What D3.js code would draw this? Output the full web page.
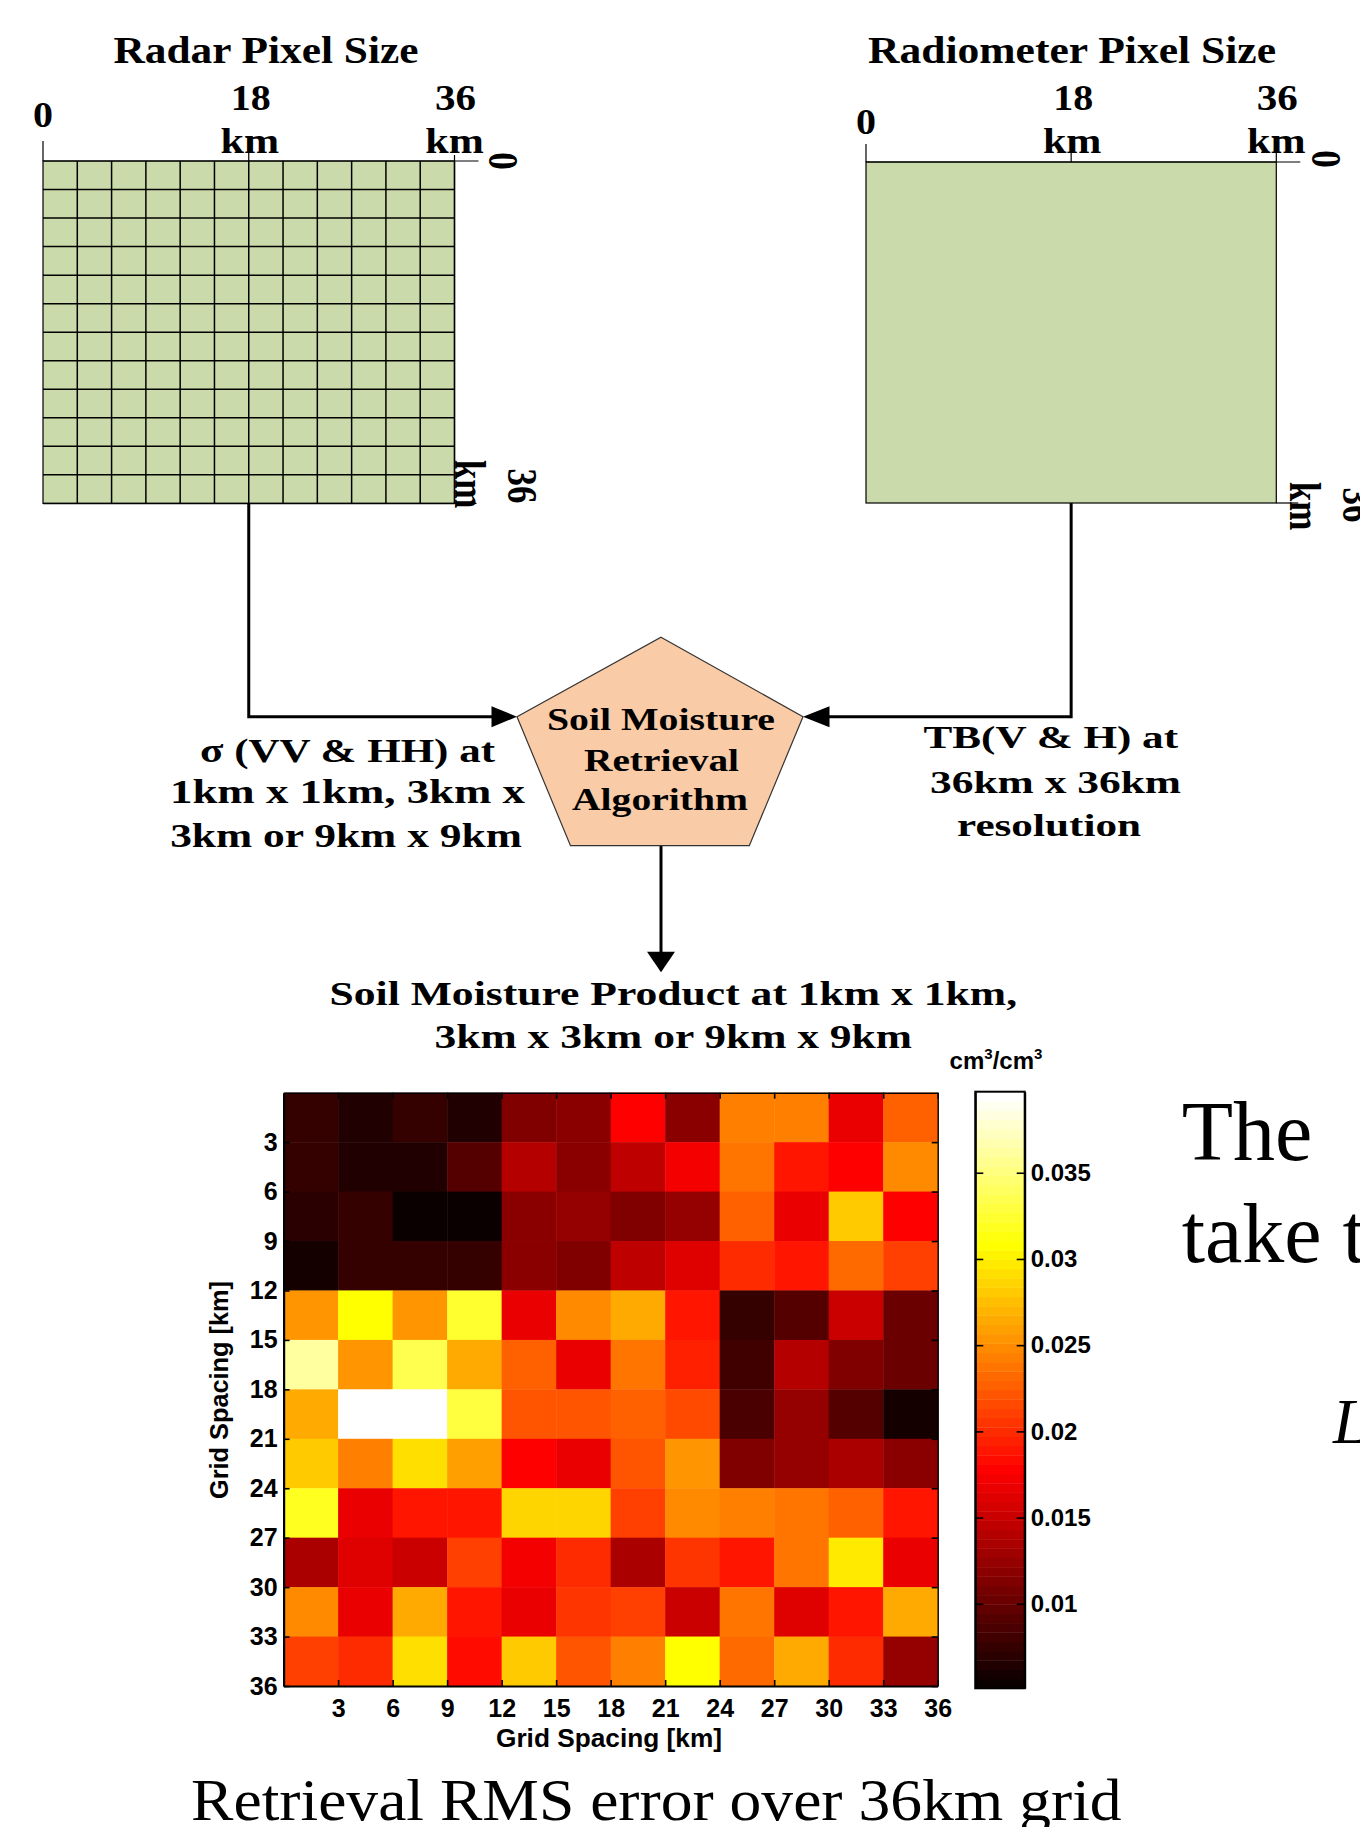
<!DOCTYPE html>
<html>
<head>
<meta charset="utf-8">
<script src="https://cdn.jsdelivr.net/npm/d3@7"></script>
<style>
  html, body { margin: 0; padding: 0; background: #fff; }
  svg { display: block; }
</style>
</head>
<body>
<svg id="chart" width="1360" height="1827"></svg>
<script>
// grid spacing ticks of the error map (km), cell edges
const gridTicks = [3, 6, 9, 12, 15, 18, 21, 24, 27, 30, 33, 36];
// pixel size ticks of the radar / radiometer boxes (km)
const pixelTicks = [0, 18, 36];
// colorbar
const cbTicks = [0.01, 0.015, 0.02, 0.025, 0.03, 0.035];
const cbDomain = [0.0051, 0.0397];

// retrieval RMS error (cm3/cm3), rows top to bottom, cols left to right
const rmsError = [
  [0.0075, 0.0065, 0.0075, 0.0065, 0.0113, 0.0119, 0.0178, 0.0119, 0.0243, 0.0243, 0.0167, 0.0227],
  [0.0075, 0.0065, 0.0065, 0.0092, 0.0140, 0.0119, 0.0146, 0.0173, 0.0238, 0.0189, 0.0180, 0.0248],
  [0.0070, 0.0075, 0.0054, 0.0054, 0.0119, 0.0124, 0.0113, 0.0124, 0.0227, 0.0167, 0.0281, 0.0178],
  [0.0059, 0.0075, 0.0075, 0.0075, 0.0119, 0.0113, 0.0146, 0.0162, 0.0200, 0.0189, 0.0232, 0.0211],
  [0.0254, 0.0308, 0.0254, 0.0324, 0.0167, 0.0251, 0.0264, 0.0189, 0.0075, 0.0092, 0.0151, 0.0102],
  [0.0362, 0.0254, 0.0335, 0.0264, 0.0227, 0.0167, 0.0238, 0.0194, 0.0081, 0.0140, 0.0113, 0.0102],
  [0.0264, 0.0394, 0.0394, 0.0329, 0.0221, 0.0221, 0.0224, 0.0216, 0.0086, 0.0124, 0.0092, 0.0059],
  [0.0281, 0.0243, 0.0292, 0.0259, 0.0178, 0.0167, 0.0221, 0.0254, 0.0113, 0.0124, 0.0135, 0.0119],
  [0.0319, 0.0167, 0.0189, 0.0189, 0.0286, 0.0286, 0.0211, 0.0248, 0.0243, 0.0238, 0.0227, 0.0189],
  [0.0135, 0.0162, 0.0151, 0.0211, 0.0173, 0.0200, 0.0135, 0.0205, 0.0189, 0.0238, 0.0297, 0.0167],
  [0.0248, 0.0167, 0.0264, 0.0189, 0.0167, 0.0205, 0.0211, 0.0151, 0.0238, 0.0162, 0.0189, 0.0264],
  [0.0211, 0.0200, 0.0292, 0.0183, 0.0281, 0.0221, 0.0243, 0.0308, 0.0232, 0.0264, 0.0200, 0.0124]
];

const SERIF = '"Liberation Serif", "Times New Roman", Times, serif';
const SANS = '"Liberation Sans", Arial, Helvetica, sans-serif';

const svg = d3.select('#chart');
svg.append('rect').attr('width', 1360).attr('height', 1827).attr('fill', '#fff');

// text helper: centred at (x, y) baseline, optionally stretched to a width
function label(g, str, x, y, size, opts = {}) {
  const t = g.append('text')
    .attr('x', x).attr('y', y)
    .attr('text-anchor', opts.anchor || 'middle')
    .attr('font-family', opts.family || SERIF)
    .attr('font-weight', opts.weight || 'bold')
    .attr('font-size', size)
    .attr('fill', '#000')
    .text(str);
  if (opts.width) t.attr('textLength', opts.width).attr('lengthAdjust', 'spacingAndGlyphs');
  if (opts.style) t.attr('font-style', opts.style);
  if (opts.rotate) {
    t.attr('x', 0).attr('y', 0)
      .attr('transform', `translate(${x},${y}) scale(${opts.sx || 1},1) rotate(${opts.rotate})`);
  }
  return t;
}

// ---------- radar / radiometer pixel boxes ----------
function pixelBox(cfg) {
  const g = svg.append('g');
  const gx = d3.scaleLinear().domain([0, 36]).range([cfg.x0, cfg.x1]);
  const gy = d3.scaleLinear().domain([0, 36]).range([cfg.y0, cfg.y1]);

  g.append('rect')
    .attr('x', gx(0)).attr('y', gy(0))
    .attr('width', gx(36) - gx(0)).attr('height', gy(36) - gy(0))
    .attr('fill', '#cbdaaa').attr('stroke', '#000').attr('stroke-width', 1.2);

  if (cfg.cells) {
    g.selectAll('.vl').data(gridTicks).join('line')
      .attr('x1', d => gx(d)).attr('x2', d => gx(d))
      .attr('y1', gy(0)).attr('y2', gy(36))
      .attr('stroke', '#000').attr('stroke-width', 1.5);
    g.selectAll('.hl').data(gridTicks).join('line')
      .attr('y1', d => gy(d)).attr('y2', d => gy(d))
      .attr('x1', gx(0)).attr('x2', gx(36))
      .attr('stroke', '#000').attr('stroke-width', 1.5);
  }

  // top axis line with upward ticks, right axis with outward ticks
  g.append('line').attr('x1', gx(0)).attr('x2', gx(36) + 24)
    .attr('y1', gy(0)).attr('y2', gy(0)).attr('stroke', '#000').attr('stroke-width', 1.2);
  g.append('line').attr('x1', gx(36)).attr('x2', gx(36) + 22)
    .attr('y1', gy(36)).attr('y2', gy(36)).attr('stroke', '#000').attr('stroke-width', 1.2);
  g.selectAll('.tk').data(pixelTicks).join('line')
    .attr('x1', d => gx(d)).attr('x2', d => gx(d))
    .attr('y1', gy(0)).attr('y2', (d, i) => gy(0) - cfg.tickLen[i])
    .attr('stroke', '#000').attr('stroke-width', 1.2);

  label(g, cfg.title, cfg.titleX, 63, 38, { width: cfg.titleW });
  label(g, '0', gx(0), cfg.zeroY, 35, { width: 20 });
  label(g, '18', gx(18) + 2, 110, 35, { width: 40 });
  label(g, 'km', gx(18) + 1, 153, 35, { width: 58.5 });
  label(g, '36', gx(36) + 1, 110, 35, { width: 41 });
  label(g, 'km', gx(36), 153, 35, { width: 58.5 });

  // right side labels, rotated
  label(g, '0', cfg.rZero[0], cfg.rZero[1], 35, { rotate: 90, sx: 1.2 });
  label(g, 'km', cfg.rKm[0], cfg.rKm[1], 35, { rotate: 90, sx: 1.25 });
  label(g, '36', cfg.r36[0], cfg.r36[1], 35, { rotate: 90, sx: 1.2 });
  return gx;
}

const radarX = pixelBox({
  x0: 43, x1: 454.5, y0: 161, y1: 503.4, cells: true,
  tickLen: [20, 9, 6], title: 'Radar Pixel Size', titleX: 266, titleW: 305,
  zeroY: 127.4, rZero: [489, 161], rKm: [455, 484], r36: [508, 486]
});
const radioX = pixelBox({
  x0: 866, x1: 1276.3, y0: 162, y1: 503, cells: false,
  tickLen: [18, 17, 9], title: 'Radiometer Pixel Size', titleX: 1072, titleW: 408,
  zeroY: 133.6, rZero: [1312, 159], rKm: [1290, 506], r36: [1343, 505]
});

// ---------- flow connectors and algorithm pentagon ----------
const flow = svg.append('g');
const arrowY = 716.7;
const pent = [[661, 637.3], [803, arrowY], [749.3, 845.7], [570.5, 845.7], [517, arrowY]];

flow.append('path')
  .attr('d', `M${radarX(18)},503.4 V${arrowY} H493`)
  .attr('fill', 'none').attr('stroke', '#000').attr('stroke-width', 3);
flow.append('path')
  .attr('d', `M${radioX(18)},503 V${arrowY} H828`)
  .attr('fill', 'none').attr('stroke', '#000').attr('stroke-width', 3);
flow.append('path')
  .attr('d', `M661,845.7 V953`)
  .attr('fill', 'none').attr('stroke', '#000').attr('stroke-width', 3);

// arrow heads
flow.append('path').attr('d', `M517,${arrowY} L491.5,${arrowY - 10.5} L491.5,${arrowY + 10.5} Z`).attr('fill', '#000');
flow.append('path').attr('d', `M803,${arrowY} L829.5,${arrowY - 10.5} L829.5,${arrowY + 10.5} Z`).attr('fill', '#000');
flow.append('path').attr('d', `M661,972.3 L647,951.7 L675,951.7 Z`).attr('fill', '#000');

flow.append('polygon')
  .attr('points', pent.map(p => p.join(',')).join(' '))
  .attr('fill', '#f9cba7').attr('stroke', '#333').attr('stroke-width', 1.2);

label(flow, 'Soil Moisture', 661, 730, 31, { width: 228 });
label(flow, 'Retrieval', 661.5, 770.5, 31, { width: 155 });
label(flow, 'Algorithm', 660, 809.5, 31, { width: 176 });

label(flow, 'σ (VV & HH) at', 347.5, 761.7, 33, { width: 295 });
label(flow, '1km x 1km,  3km x', 347.5, 803.3, 33, { width: 355 });
label(flow, '3km or 9km x 9km', 346, 846.7, 33, { width: 351.7 });

label(flow, 'TB(V & H) at', 1050.8, 748.3, 32, { width: 254.5 });
label(flow, '36km x 36km', 1055.5, 793.3, 32, { width: 251 });
label(flow, 'resolution', 1049, 836, 32, { width: 184 });

label(flow, 'Soil Moisture Product at 1km x 1km,', 673.3, 1005, 33, { width: 687.5 });
label(flow, '3km x 3km or 9km x 9km', 673.3, 1047.7, 33, { width: 477.4 });

// ---------- RMS error map ----------
function hot(m) {
  const n = Math.floor(3 / 8 * m);
  return d3.range(1, m + 1).map(k => {
    const r = Math.min(k / n, 1);
    const g = Math.max(0, Math.min((k - n) / n, 1));
    const b = Math.max(0, Math.min((k - 2 * n) / (m - 2 * n), 1));
    return d3.rgb(r * 255, g * 255, b * 255).formatHex();
  });
}
const color = d3.scaleQuantize().domain(cbDomain).range(hot(64));

const x = d3.scaleLinear().domain([0, 36]).range([283.6, 937.7]);
const y = d3.scaleLinear().domain([0, 36]).range([1092.7, 1686]);

const cells = rmsError.flatMap((row, i) => row.map((v, j) => ({ row: gridTicks[i], col: gridTicks[j], v })));
const heat = svg.append('g');
heat.selectAll('rect').data(cells).join('rect')
  .attr('x', d => x(d.col - 3))
  .attr('y', d => y(d.row - 3))
  .attr('width', d => x(d.col) - x(d.col - 3) + 0.4)
  .attr('height', d => y(d.row) - y(d.row - 3) + 0.4)
  .attr('fill', d => color(d.v));

function styleAxis(g, width) {
  g.attr('font-family', SANS).attr('font-size', 25).attr('font-weight', 'bold');
  g.select('.domain').attr('stroke', '#000').attr('stroke-width', width);
  g.selectAll('.tick line').attr('stroke', '#000').attr('stroke-width', 1.6);
  g.selectAll('.tick text').attr('fill', '#000');
}

svg.append('g').attr('transform', `translate(0,${y(36)})`)
  .call(d3.axisBottom(x).tickValues(gridTicks).tickSizeInner(-6).tickSizeOuter(0).tickPadding(13))
  .call(g => styleAxis(g, 2.2));
svg.append('g').attr('transform', `translate(${x(0)},0)`)
  .call(d3.axisLeft(y).tickValues(gridTicks).tickSizeInner(-6).tickSizeOuter(0).tickPadding(6))
  .call(g => styleAxis(g, 2.2));
svg.append('g').attr('transform', `translate(0,${y(0)})`)
  .call(d3.axisTop(x).tickValues(gridTicks).tickSizeInner(-6).tickSizeOuter(0).tickFormat(''))
  .call(g => styleAxis(g, 1.4));
svg.append('g').attr('transform', `translate(${x(36)},0)`)
  .call(d3.axisRight(y).tickValues(gridTicks).tickSizeInner(-6).tickSizeOuter(0).tickFormat(''))
  .call(g => styleAxis(g, 1.4));

label(svg, 'Grid Spacing [km]', 609, 1746.7, 25, { family: SANS, width: 226 });
svg.append('text')
  .attr('transform', 'translate(228,1390) rotate(-90)')
  .attr('text-anchor', 'middle')
  .attr('font-family', SANS).attr('font-weight', 'bold').attr('font-size', 25)
  .attr('textLength', 218).attr('lengthAdjust', 'spacingAndGlyphs')
  .text('Grid Spacing [km]');

// ---------- colorbar ----------
const cbX0 = 975.3, cbX1 = 1024.7;
const cy = d3.scaleLinear().domain(cbDomain).range([1688.3, 1091.7]);
const cb = svg.append('g');
cb.selectAll('rect').data(color.range()).join('rect')
  .attr('x', cbX0).attr('width', cbX1 - cbX0)
  .attr('y', c => cy(color.invertExtent(c)[1]))
  .attr('height', c => cy(color.invertExtent(c)[0]) - cy(color.invertExtent(c)[1]) + 0.4)
  .attr('fill', c => c);
cb.append('rect')
  .attr('x', cbX0).attr('y', cy(cbDomain[1]))
  .attr('width', cbX1 - cbX0).attr('height', cy(cbDomain[0]) - cy(cbDomain[1]))
  .attr('fill', 'none').attr('stroke', '#000').attr('stroke-width', 2);

svg.append('g').attr('transform', `translate(${cbX1},0)`)
  .call(d3.axisRight(cy).tickValues(cbTicks).tickSizeInner(-8).tickSizeOuter(0).tickPadding(6).tickFormat(d3.format('')))
  .call(g => styleAxis(g, 2))
  .attr('font-size', 24);
svg.append('g').attr('transform', `translate(${cbX0},0)`)
  .call(d3.axisLeft(cy).tickValues(cbTicks).tickSizeInner(-8).tickSizeOuter(0).tickFormat(''))
  .call(g => styleAxis(g, 2));

const unit = svg.append('text')
  .attr('x', 949.6).attr('y', 1069)
  .attr('font-family', SANS).attr('font-weight', 'bold').attr('font-size', 24);
unit.append('tspan').text('cm');
unit.append('tspan').attr('dy', -10).attr('font-size', 15).text('3');
unit.append('tspan').attr('dy', 10).text('/cm');
unit.append('tspan').attr('dy', -10).attr('font-size', 15).text('3');

// ---------- slide text around the map ----------
label(svg, 'The', 1181.7, 1160, 84, { anchor: 'start', weight: 'normal' });
label(svg, 'take t', 1181.7, 1261.7, 84, { anchor: 'start', weight: 'normal' });
label(svg, 'L', 1333, 1443.3, 63, { anchor: 'start', weight: 'normal', style: 'italic' });
label(svg, 'Retrieval RMS error over 36km grid', 656.3, 1820, 60, { weight: 'normal', width: 930.6 });
</script>
</body>
</html>
